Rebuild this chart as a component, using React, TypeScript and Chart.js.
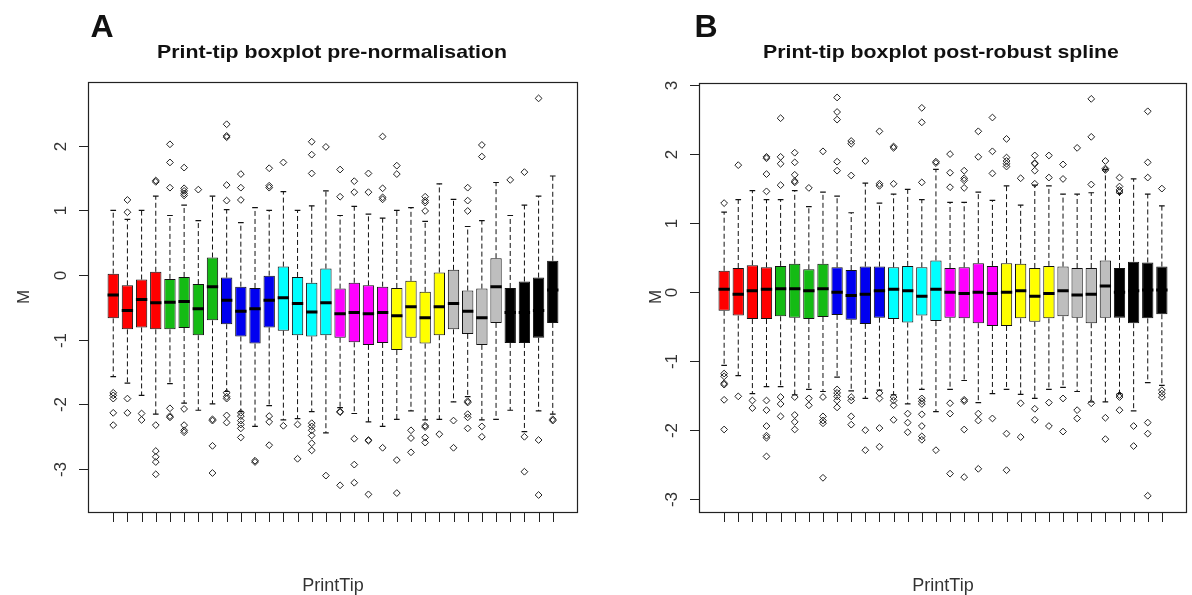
import React, { useEffect, useRef } from "react";
import { Chart, registerables } from "chart.js";

Chart.register(...registerables);

// ---------- categories ----------
const printTips = [1, 2, 3, 4, 5, 6, 7, 8, 9, 10, 11, 12, 13, 14, 15, 16, 17, 18, 19, 20, 21, 22, 23, 24, 25, 26, 27, 28, 29, 30, 31, 32];
const tipColors = ["#FF0000", "#14BB14", "#0000F0", "#00FFFF", "#FF00FF", "#FFFF00", "#BEBEBE", "#000000"];
const tipsPerColor = 4;

// ---------- Panel A: pre-normalisation ----------
const q3A = [0.02, -0.16, -0.07, 0.05, -0.06, -0.03, -0.14, 0.27, -0.04, -0.18, -0.2, -0.01, 0.13, -0.03, -0.12, 0.1, -0.21, -0.12, -0.16, -0.18, -0.2, -0.09, -0.26, 0.04, 0.08, -0.24, -0.21, 0.26, -0.2, -0.1, -0.04, 0.22];
const medA = [-0.31, -0.55, -0.38, -0.43, -0.42, -0.41, -0.52, -0.18, -0.39, -0.56, -0.52, -0.39, -0.35, -0.44, -0.57, -0.43, -0.6, -0.58, -0.6, -0.58, -0.63, -0.49, -0.66, -0.49, -0.44, -0.56, -0.66, -0.18, -0.58, -0.58, -0.55, -0.23];
const q1A = [-0.67, -0.84, -0.81, -0.84, -0.84, -0.82, -0.93, -0.7, -0.76, -0.95, -1.06, -0.81, -0.86, -0.93, -0.95, -0.93, -0.97, -1.04, -1.08, -1.05, -1.16, -0.97, -1.06, -0.93, -0.84, -0.91, -1.08, -0.74, -1.05, -1.05, -0.97, -0.74];
const hiA = [1.0, 0.86, 1.0, 1.22, 0.92, 1.08, 0.84, 1.22, 1.01, 0.81, 1.04, 1.0, 1.29, 1.0, 1.07, 1.3, 0.92, 1.06, 0.94, 0.88, 1.0, 1.04, 0.83, 1.41, 1.17, 0.75, 0.84, 1.43, 0.92, 1.08, 1.22, 1.53];
const loA = [-1.57, -1.67, -1.86, -2.15, -1.68, -1.98, -2.09, -1.99, -1.8, -2.11, -2.34, -2.02, -2.24, -2.22, -2.11, -2.44, -2.05, -2.14, -2.27, -2.34, -2.23, -2.1, -2.24, -2.23, -1.96, -1.88, -2.24, -2.23, -2.09, -2.42, -2.1, -2.15];
const outA = [
  [-1.82, -1.86, -1.91, -2.13, -2.32],
  [1.16, 0.97, -1.91, -2.13],
  [-2.14, -2.24],
  [1.46, 1.44, -2.32, -2.72, -2.81, -2.89, -3.08],
  [2.02, 1.74, 1.35, -2.06, -2.18, -2.2],
  [1.66, 1.34, 1.3, 1.26, 1.23, -2.07, -2.32, -2.4, -2.43],
  [1.32],
  [-2.23, -2.25, -2.64, -3.06],
  [2.33, 2.15, 2.13, 1.39, 1.15, -1.82, -1.88, -1.91, -2.17, -2.28],
  [1.56, 1.35, 1.16, -2.13, -2.18, -2.25, -2.31, -2.37, -2.51],
  [-2.87, -2.89],
  [1.65, 1.38, 1.35, -2.18, -2.27, -2.63],
  [1.74, -2.33],
  [-2.31, -2.84],
  [2.06, 1.86, 1.57, -2.29, -2.34, -2.4, -2.48, -2.6, -2.71],
  [1.98, -3.1],
  [1.63, 1.21, -2.11, -2.12, -3.25],
  [1.45, 1.28, -2.53, -2.93, -3.21],
  [1.57, 1.28, -2.55, -2.56, -3.39],
  [2.14, 1.34, 1.2, 1.17, -2.67],
  [1.69, 1.56, -2.86, -3.37],
  [-2.4, -2.52, -2.74],
  [1.21, 1.15, 1.12, 0.99, -2.33, -2.35, -2.51, -2.59],
  [-2.46],
  [-2.25, -2.67],
  [1.35, 1.15, 0.99, -1.95, -1.97, -2.15, -2.2, -2.37],
  [2.01, 1.83, -2.34, -2.5],
  [],
  [1.47],
  [1.59, -2.5, -3.04],
  [2.73, -2.55, -3.4],
  [-2.23, -2.25],
];
const yTicksA = [-3, -2, -1, 0, 1, 2];

// ---------- Panel B: post-robust spline ----------
const q3B = [0.31, 0.35, 0.39, 0.36, 0.38, 0.41, 0.33, 0.41, 0.36, 0.32, 0.37, 0.37, 0.36, 0.38, 0.36, 0.46, 0.35, 0.36, 0.42, 0.38, 0.42, 0.41, 0.35, 0.38, 0.37, 0.35, 0.35, 0.46, 0.35, 0.44, 0.43, 0.37];
const medB = [0.04, -0.03, 0.02, 0.04, 0.05, 0.05, 0.02, 0.05, 0.0, -0.05, -0.03, 0.02, 0.04, 0.02, -0.06, 0.04, 0.0, -0.02, 0.0, -0.02, 0.0, 0.02, -0.06, -0.02, 0.02, -0.04, -0.03, 0.09, 0.0, 0.02, 0.03, 0.03];
const q1B = [-0.27, -0.34, -0.39, -0.39, -0.35, -0.37, -0.39, -0.36, -0.33, -0.4, -0.46, -0.37, -0.39, -0.44, -0.34, -0.42, -0.37, -0.38, -0.45, -0.49, -0.49, -0.38, -0.43, -0.38, -0.35, -0.37, -0.45, -0.37, -0.37, -0.45, -0.38, -0.32];
const hiB = [1.16, 1.34, 1.47, 1.34, 1.34, 1.47, 1.24, 1.45, 1.39, 1.15, 1.58, 1.29, 1.42, 1.49, 1.34, 1.78, 1.3, 1.3, 1.45, 1.33, 1.54, 1.26, 1.55, 1.54, 1.42, 1.42, 1.44, 1.78, 1.43, 1.64, 1.42, 1.25];
const loB = [-1.06, -1.21, -1.47, -1.37, -1.37, -1.49, -1.41, -1.44, -1.23, -1.43, -1.54, -1.42, -1.49, -1.62, -1.41, -1.73, -1.41, -1.28, -1.6, -1.47, -1.41, -1.48, -1.54, -1.41, -1.38, -1.44, -1.59, -1.59, -1.47, -1.72, -1.31, -1.35];
const outB = [
  [1.29, -1.18, -1.22, -1.32, -1.34, -1.56, -1.99],
  [1.84, -1.51],
  [-1.57, -1.68],
  [1.96, 1.94, 1.71, 1.46, -1.57, -1.71, -1.94, -2.08, -2.11, -2.38],
  [2.52, 1.96, 1.86, 1.55, -1.52, -1.62, -1.8],
  [2.02, 1.88, 1.7, 1.61, 1.59, -1.52, -1.78, -1.88, -1.99],
  [1.51, -1.54, -1.64],
  [2.04, -1.52, -1.8, -1.86, -1.9, -2.69],
  [2.82, 2.61, 2.5, 1.89, 1.76, -1.41, -1.46, -1.51, -1.57, -1.67],
  [2.19, 2.15, 1.69, -1.52, -1.57, -1.8, -1.92],
  [1.9, -2.0, -2.29],
  [2.33, 1.57, 1.54, -1.46, -1.54, -1.97, -2.24],
  [2.11, 2.09, 1.57, -1.52, -1.57, -1.64, -1.85],
  [-1.76, -1.89, -2.03],
  [2.67, 2.46, 1.59, -1.54, -1.58, -1.62, -1.77, -1.94, -2.09, -2.14],
  [1.89, 1.87, -2.29],
  [2.0, 1.73, 1.52, -1.61, -1.76, -2.63],
  [1.76, 1.65, 1.62, 1.51, -1.56, -1.58, -1.99, -2.68],
  [2.33, 1.96, -1.76, -1.86, -2.56],
  [2.53, 2.04, 1.72, -1.83],
  [2.22, 1.95, 1.9, 1.86, 1.82, -2.05, -2.58],
  [1.65, -1.61, -2.1],
  [1.98, 1.87, 1.86, 1.76, 1.57, -1.69, -1.85],
  [1.98, 1.66, -1.6, -1.94],
  [1.85, 1.64, -1.54, -2.02],
  [2.09, -1.71, -1.83],
  [2.8, 2.25, 1.56, -1.61],
  [1.9, 1.79, 1.77, -1.82, -2.13],
  [1.66, 1.53, 1.48, 1.45, -1.49, -1.52, -1.71],
  [-1.94, -2.23],
  [2.62, 1.88, 1.66, -1.89, -2.05, -2.95],
  [1.5, -1.42, -1.47, -1.52],
];
const yTicksB = [-3, -2, -1, 0, 1, 2, 3];

// ---------- rendering helpers ----------
const BOX_WEX = 0.8; // box width in category units (R boxwex)
const STAPLE_WEX = 0.4; // whisker cap width in category units

const boxColors = printTips.map((_, i) => tipColors[Math.floor(i / tipsPerColor)]);

type Panel = {
  q1: number[]; med: number[]; q3: number[]; lo: number[]; hi: number[]; out: number[][];
  yMin: number; yMax: number; yTicks: number[]; padding: { left: number; top: number; right: number; bottom: number };
};

const panelA: Panel = {
  q1: q1A, med: medA, q3: q3A, lo: loA, hi: hiA, out: outA,
  yMin: -3.678, yMax: 2.983, yTicks: yTicksA,
  padding: { left: 88, top: 82, right: 18, bottom: 82 },
};
const panelB: Panel = {
  q1: q1B, med: medB, q3: q3B, lo: loB, hi: hiB, out: outB,
  yMin: -3.2, yMax: 3.03, yTicks: yTicksB,
  padding: { left: 103, top: 83, right: 4, bottom: 82 },
};

const rAxesPlugin = (yTicks: number[]) => ({
  id: "rAxes",
  afterDraw(chart: any) {
    const { ctx, chartArea } = chart;
    const xs = chart.scales.x;
    const ys = chart.scales.y;
    ctx.save();
    ctx.strokeStyle = "#222";
    ctx.lineWidth = 1.2;
    ctx.strokeRect(chartArea.left + 0.5, chartArea.top + 0.5, chartArea.right - chartArea.left - 1, chartArea.bottom - chartArea.top - 1);
    // y ticks
    ctx.lineWidth = 1;
    ctx.fillStyle = "#333";
    ctx.font = "17px 'Liberation Sans', Arial, sans-serif";
    ctx.textAlign = "center";
    ctx.textBaseline = "middle";
    yTicks.forEach((v) => {
      const py = Math.round(ys.getPixelForValue(v)) + 0.5;
      ctx.beginPath();
      ctx.moveTo(chartArea.left - 9, py);
      ctx.lineTo(chartArea.left, py);
      ctx.stroke();
      ctx.save();
      ctx.translate(chartArea.left - 27, py);
      ctx.rotate(-Math.PI / 2);
      ctx.fillText(String(v), 0, 0);
      ctx.restore();
    });
    // x ticks
    printTips.forEach((t) => {
      const px = Math.round(xs.getPixelForValue(t)) + 0.5;
      ctx.beginPath();
      ctx.moveTo(px, chartArea.bottom);
      ctx.lineTo(px, chartArea.bottom + 9);
      ctx.stroke();
    });
    ctx.restore();
  },
});

function ChartPanel({ panel, left }: { panel: Panel; left: number }) {
  const ref = useRef<HTMLCanvasElement | null>(null);
  useEffect(() => {
    if (!ref.current) return;
    const boxData = printTips.map((t, i) => ({ x: t, y: [panel.q1[i], panel.q3[i]] }));
    const whiskers: any[] = [];
    const staples: any[] = [];
    const medians: any[] = [];
    const outliers: any[] = [];
    printTips.forEach((t, i) => {
      whiskers.push({ x: t, y: panel.q3[i] }, { x: t, y: panel.hi[i] }, { x: t, y: null });
      whiskers.push({ x: t, y: panel.q1[i] }, { x: t, y: panel.lo[i] }, { x: t, y: null });
      staples.push({ x: t - STAPLE_WEX / 2, y: panel.hi[i] }, { x: t + STAPLE_WEX / 2, y: panel.hi[i] }, { x: t, y: null });
      staples.push({ x: t - STAPLE_WEX / 2, y: panel.lo[i] }, { x: t + STAPLE_WEX / 2, y: panel.lo[i] }, { x: t, y: null });
      medians.push({ x: t - BOX_WEX / 2, y: panel.med[i] }, { x: t + BOX_WEX / 2, y: panel.med[i] }, { x: t, y: null });
      panel.out[i].forEach((v) => outliers.push({ x: t, y: v }));
    });
    const chart = new Chart(ref.current, {
      type: "bar",
      data: {
        datasets: [
          {
            type: "line", data: medians, borderColor: "#000", borderWidth: 3, pointRadius: 0,
            spanGaps: false, order: 0, borderCapStyle: "butt",
          } as any,
          {
            type: "scatter", data: outliers, pointStyle: "rectRot", pointRadius: 3.4,
            pointBorderColor: "#222", pointBackgroundColor: "rgba(255,255,255,0)", pointBorderWidth: 1, order: 1,
          } as any,
          {
            type: "bar", data: boxData, backgroundColor: boxColors, borderColor: "#111", borderWidth: 1,
            borderSkipped: false, barPercentage: BOX_WEX, categoryPercentage: 1, grouped: false, order: 2,
          } as any,
          {
            type: "line", data: staples, borderColor: "#111", borderWidth: 1.2, pointRadius: 0,
            spanGaps: false, order: 3,
          } as any,
          {
            type: "line", data: whiskers, borderColor: "#111", borderWidth: 1, borderDash: [5, 3], pointRadius: 0,
            spanGaps: false, order: 4,
          } as any,
        ],
      },
      options: {
        animation: false,
        responsive: false,
        devicePixelRatio: 1,
        layout: { padding: panel.padding },
        plugins: { legend: { display: false }, tooltip: { enabled: false }, title: { display: false } },
        scales: {
          x: { type: "linear", min: -0.78, max: 33.78, offset: false, display: false },
          y: { type: "linear", min: panel.yMin, max: panel.yMax, display: false },
        },
      } as any,
      plugins: [rAxesPlugin(panel.yTicks)],
    });
    return () => chart.destroy();
  }, [panel]);
  return (
    <canvas ref={ref} width={596} height={595} style={{ position: "absolute", left, top: 0, width: 596, height: 595 }} />
  );
}

const font = "'Liberation Sans', Arial, Helvetica, sans-serif";

function Label({ text, x, y, size, bold, rotate, sx = 1, color = "#111" }: any) {
  return (
    <div
      style={{
        position: "absolute", left: x, top: y, fontFamily: font, fontSize: size, fontWeight: bold ? 700 : 400,
        lineHeight: 1, whiteSpace: "nowrap", color,
        transform: `translate(-50%, -50%)${rotate ? " rotate(-90deg)" : ""} scaleX(${sx})`,
      }}
    >
      {text}
    </div>
  );
}

export default function App() {
  return (
    <div style={{ position: "absolute", left: 0, top: 0, width: 1192, height: 595, background: "#fff", overflow: "hidden" }}>
      <ChartPanel panel={panelA} left={0} />
      <ChartPanel panel={panelB} left={596} />
      <Label text="A" x={102} y={26} size={32} bold />
      <Label text="B" x={706} y={26} size={32} bold />
      <Label text="Print-tip boxplot pre-normalisation" x={332} y={51} size={19} bold sx={1.12} />
      <Label text="Print-tip boxplot post-robust spline" x={941} y={51} size={19} bold sx={1.12} />
      <Label text="M" x={23} y={297} size={17} rotate color="#333" />
      <Label text="M" x={655} y={297} size={17} rotate color="#333" />
      <Label text="PrintTip" x={333} y={585} size={18} color="#333" />
      <Label text="PrintTip" x={943} y={585} size={18} color="#333" />
    </div>
  );
}
